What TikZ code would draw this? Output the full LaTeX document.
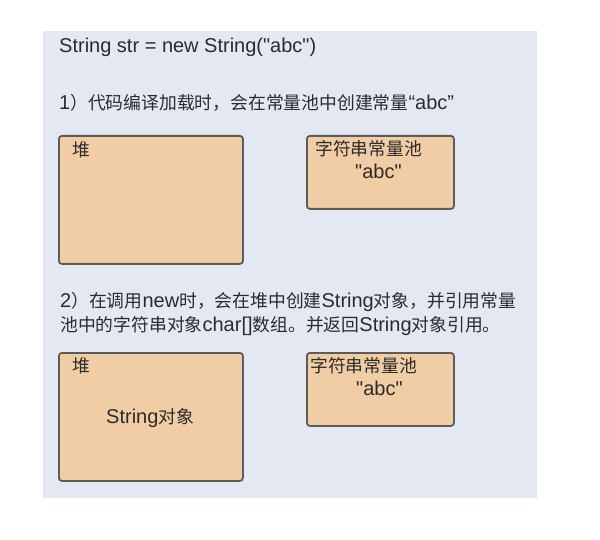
\documentclass[tikz,border=0pt]{standalone}
\usepackage{fontspec}
\setmainfont{Liberation Sans}[Ligatures=TeXOff]
\newfontfamily\cjkfont{Noto Sans CJK SC}
\newcommand\zh[1]{{\cjkfont\fontsize{17.8}{21}\selectfont #1}}
\definecolor{panelbg}{HTML}{E3E8F3}
\definecolor{boxfill}{HTML}{F1CDA6}
\definecolor{boxline}{HTML}{5C5C5C}
\definecolor{txt}{HTML}{2B2B2B}
\tikzset{
  membox/.style={draw=boxline, fill=boxfill, line width=1.8pt, rounded corners=3pt, anchor=north west, inner sep=0pt},
  lbl/.style={anchor=base west, inner sep=0pt, text=txt, font=\fontsize{20}{24}\selectfont},
}
\begin{document}
\begin{tikzpicture}[x=1pt,y=-1pt]
\useasboundingbox (0,0) rectangle (600,540);
\fill[white] (0,0) rectangle (600,540);
\node[fill=panelbg, anchor=north west, inner sep=0pt, minimum width=494pt, minimum height=467pt] (panel) at (43,31) {};

\node[lbl] (title) at (59,53) {String str = new String("abc")};
\node[lbl] (step1) at (59,110) {1\zh{）代码编译加载时，会在常量池中创建常量}“abc”};

\node[membox, minimum width=184pt, minimum height=128pt] (heapA) at (58,135) {};
\node[membox, minimum width=147pt, minimum height=73pt] (poolA) at (306,135) {};
\node[lbl] (heapAt) at (72,157) {\zh{堆}};
\node[lbl] (poolAt) at (315,156) {\zh{字符串常量池}};
\node[lbl] (poolAv) at (355,179) {"abc"};

\node[lbl] (step2a) at (60,308) {2\zh{）在调用}new\zh{时，会在堆中创建}String\zh{对象，并引用常量}};
\node[lbl] (step2b) at (60,331) {\zh{池中的字符串对象}char[]\zh{数组。并返回}String\zh{对象引用。}};

\node[membox, minimum width=184pt, minimum height=128pt] (heapB) at (58,352) {};
\node[membox, minimum width=147pt, minimum height=73pt] (poolB) at (306,352) {};
\node[lbl] (heapBt) at (72,372) {\zh{堆}};
\node[lbl] (poolBt) at (310,372) {\zh{字符串常量池}};
\node[lbl] (poolBv) at (356,395) {"abc"};
\node[lbl] (strobj) at (106,423) {String\zh{对象}};
\end{tikzpicture}
\end{document}
